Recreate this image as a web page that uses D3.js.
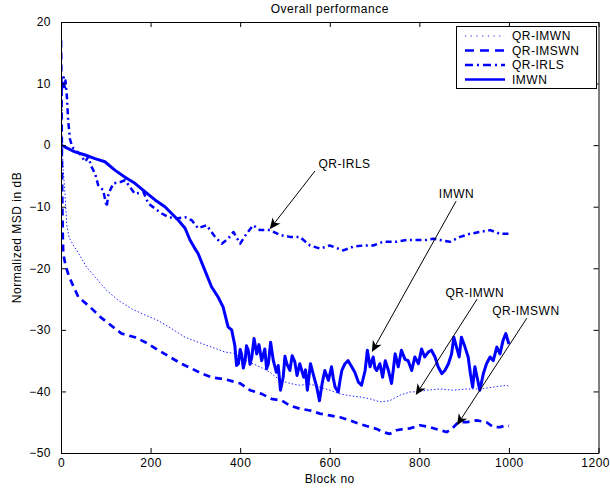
<!DOCTYPE html>
<html><head><meta charset="utf-8">
<script src="https://cdn.jsdelivr.net/npm/d3@7"></script>
<style>
html,body{margin:0;padding:0;background:#fff;}
svg{display:block;font-family:"Liberation Sans",Arial,Helvetica,sans-serif;}
</style></head><body>
<svg id="chart" width="610" height="489"></svg>
<script>
// ---------- data ----------
const xTicks = [0, 200, 400, 600, 800, 1000, 1200];
const yTicks = [20, 10, 0, -10, -20, -30, -40, -50];
const seriesNames = ["QR-IMWN", "QR-IMSWN", "QR-IRLS", "IMWN"];

const qrImwnBlocks = [0, 1, 3, 5, 9, 13, 18, 27, 42, 57, 76, 102, 128, 158, 188, 217, 247, 277, 306, 336, 366, 385, 400, 422, 444, 467, 489, 511, 533, 556, 578, 600, 623, 645, 667, 690, 712, 734, 757, 779, 801, 816, 846, 876, 906, 935, 965, 995, 1000];
const qrImwnValues = [12, 4, -1, -4, -8, -13, -15, -16.2, -17.9, -19.8, -21.4, -23.6, -25.2, -26.6, -27.6, -28.5, -29.8, -31.2, -32.0, -32.8, -33.6, -33.8, -34.4, -35.3, -36.0, -36.9, -38.2, -38.7, -39.0, -38.8, -39.3, -39.8, -40.4, -40.7, -40.9, -41.2, -41.7, -41.5, -40.6, -40.1, -40.0, -39.8, -39.6, -39.8, -39.6, -39.6, -39.3, -39.0, -39.2];

const qrImswnBlocks = [0, 1, 2, 3, 4, 5, 10, 16, 25, 39, 65, 91, 135, 165, 188, 217, 243, 269, 292, 314, 336, 370, 400, 422, 448, 470, 493, 511, 533, 556, 578, 600, 623, 645, 667, 690, 705, 719, 734, 749, 764, 779, 801, 824, 846, 861, 872, 887, 906, 928, 950, 965, 980, 995, 1000];
const qrImswnValues = [17, 10, -2, -10, -15, -17.6, -19.5, -20.9, -22.5, -24.7, -26.3, -28.1, -30.6, -31.2, -32.0, -33.3, -34.4, -35.5, -36.3, -37.1, -37.7, -38.1, -38.7, -39.8, -40.4, -41.2, -41.5, -42.3, -42.8, -43.1, -43.6, -43.9, -44.2, -44.7, -45.3, -45.8, -46.1, -46.6, -46.9, -46.3, -46.1, -46.0, -45.5, -45.8, -46.3, -46.6, -46.1, -45.0, -45.0, -44.7, -45.0, -45.8, -45.8, -45.5, -45.6];

const qrIrlsBlocks = [0, 2, 4, 6, 8, 10, 13, 16, 20, 25, 31, 42, 54, 61, 68, 76, 83, 94, 102, 106, 117, 132, 143, 154, 165, 184, 195, 210, 225, 240, 258, 277, 292, 306, 325, 344, 359, 373, 385, 400, 414, 429, 444, 467, 489, 511, 533, 556, 578, 600, 630, 652, 675, 697, 719, 749, 772, 786, 816, 831, 868, 891, 913, 935, 958, 980, 1000];
const qrIrlsValues = [4, 10, 9, 11, 9, 10.5, 8, 4, 1, -0.3, -0.8, -1.4, -2.7, -1.9, -3.5, -4.6, -6.5, -7.3, -10.0, -7.9, -6.2, -6.0, -5.7, -6.8, -7.9, -7.6, -9.5, -10.3, -11.1, -11.7, -11.9, -11.7, -12.2, -13.5, -13.0, -14.9, -16.0, -15.2, -14.1, -16.0, -14.4, -13.0, -13.8, -13.8, -14.6, -14.9, -14.9, -16.3, -16.8, -16.3, -17.1, -16.5, -16.3, -16.3, -15.7, -15.7, -15.4, -15.4, -15.4, -15.2, -15.7, -14.9, -14.4, -14.1, -13.8, -14.4, -14.4];

const imwnBlocks = [0, 31, 54, 76, 98, 121, 143, 165, 188, 210, 232, 247, 262, 277, 288, 299, 306, 321, 336, 351, 362, 373, 381, 388, 392, 396, 400, 403, 407, 411, 414, 418, 422, 426, 431, 437, 442, 448, 455, 459, 463, 468, 474, 481, 485, 490, 496, 500, 504, 511, 516, 522, 527, 533, 542, 546, 550, 557, 565, 571, 577, 583, 589, 593, 597, 604, 608, 612, 619, 623, 627, 634, 641, 649, 656, 664, 671, 679, 684, 690, 697, 701, 705, 712, 718, 724, 731, 738, 742, 746, 753, 760, 768, 775, 783, 790, 798, 805, 812, 820, 827, 835, 842, 850, 857, 865, 872, 877, 883, 889, 894, 902, 909, 914, 919, 924, 929, 935, 943, 950, 958, 965, 973, 980, 987, 993, 1000];
const imwnValues = [0, -1.1, -1.6, -2.2, -2.7, -4.1, -5.2, -6.2, -7.6, -8.9, -10.0, -11.1, -12.2, -13.5, -15.4, -16.8, -17.6, -20.3, -23.0, -24.7, -26.3, -29.5, -30.0, -32.5, -35.8, -35.5, -33.2, -33.9, -36.2, -35.0, -32.6, -33.3, -35.6, -34.4, -31.4, -33.9, -32.4, -35.0, -33.1, -36.3, -35.5, -32.0, -35.0, -36.9, -35.8, -39.8, -37.7, -34.3, -35.5, -36.6, -34.2, -35.2, -37.4, -35.5, -37.7, -36.5, -39.8, -35.5, -37.7, -39.3, -41.5, -38.7, -36.6, -37.4, -38.2, -36.0, -37.9, -39.3, -40.1, -38.2, -36.6, -35.5, -35.0, -36.0, -36.9, -38.5, -39.0, -36.6, -33.3, -36.0, -34.4, -36.2, -36.6, -35.5, -37.7, -35.0, -36.6, -38.7, -36.4, -33.9, -36.0, -33.3, -34.8, -35.0, -36.6, -34.4, -35.5, -33.1, -34.4, -33.6, -33.3, -34.4, -36.0, -37.1, -36.6, -35.5, -33.9, -31.2, -32.8, -34.4, -31.2, -32.8, -34.4, -37.1, -39.3, -36.0, -37.7, -39.8, -37.1, -35.5, -34.4, -35.0, -32.8, -33.9, -31.7, -30.6, -32.3];

// annotations (data units)
const annLabels = ["QR-IRLS", "IMWN", "QR-IMWN", "QR-IMSWN"];
const annTextX = [633, 883, 924, 1038];
const annTextY = [-3.74, -8.6, -24.7, -27.6];
const annTailX = [567, 882, 929, 1040];
const annTailY = [-4.2, -9.1, -25.0, -28.1];
const annTipX = [466, 694, 792, 884];
const annTipY = [-13.65, -33.6, -40.6, -45.5];

// ---------- layout ----------
const L = 61, R = 598.5, T = 22, B = 453;
const FONT = 12, LS = "0.5px";
const svg = d3.select("#chart");
const x = d3.scaleLinear().domain([0, 1200]).range([L, R]);
const y = d3.scaleLinear().domain([-50, 20]).range([B, T]);

const styles = [
  {dash: "1.5,2", width: 1, opacity: 0.85},
  {dash: "7,5", width: 2.7, opacity: 1},
  {dash: "6,3.5,2,3.5", width: 2.5, opacity: 1},
  {dash: null, width: 3, opacity: 1}
];
const series = [
  {blocks: qrImwnBlocks, values: qrImwnValues},
  {blocks: qrImswnBlocks, values: qrImswnValues},
  {blocks: qrIrlsBlocks, values: qrIrlsValues},
  {blocks: imwnBlocks, values: imwnValues}
];

svg.append("defs").append("clipPath").attr("id", "clip")
  .append("rect").attr("x", L).attr("y", T).attr("width", R - L).attr("height", B - T);

const line = d3.line().x(d => x(d[0])).y(d => y(d[1]));
const plot = svg.append("g").attr("clip-path", "url(#clip)");
series.forEach((s, i) => {
  const pts = s.blocks.map((b, k) => [b, s.values[k]]);
  plot.append("path").attr("d", line(pts))
    .attr("fill", "none").attr("stroke", "#0000ff")
    .attr("stroke-width", styles[i].width)
    .attr("stroke-opacity", styles[i].opacity)
    .attr("stroke-dasharray", styles[i].dash)
    .attr("stroke-linejoin", "round");
});

// axes (MATLAB box style, inward ticks)
const fmt = d => (d < 0 ? "\u2212" + Math.abs(d) : String(d));
const xb = svg.append("g").attr("transform", `translate(0,${B})`)
  .call(d3.axisBottom(x).tickValues(xTicks).tickSizeInner(-5).tickSizeOuter(0).tickPadding(5).tickFormat(fmt));
const xt = svg.append("g").attr("transform", `translate(0,${T})`)
  .call(d3.axisTop(x).tickValues(xTicks).tickSizeInner(-5).tickSizeOuter(0).tickFormat(""));
const yl = svg.append("g").attr("transform", `translate(${L},0)`)
  .call(d3.axisLeft(y).tickValues(yTicks).tickSizeInner(-5).tickSizeOuter(0).tickPadding(10).tickFormat(fmt));
const yr = svg.append("g").attr("transform", `translate(${R},0)`)
  .call(d3.axisRight(y).tickValues(yTicks).tickSizeInner(-5).tickSizeOuter(0).tickFormat(""));
[xb, xt, yl, yr].forEach(g => {
  g.selectAll("path.domain").attr("stroke", "#000").attr("stroke-width", 1);
  g.selectAll("line").attr("stroke", "#000");
  g.selectAll("text").attr("fill", "#000").attr("font-size", FONT).attr("letter-spacing", LS)
    .attr("font-family", "'Liberation Sans',Arial,sans-serif");
});
// keep the last x label inside the window
xb.selectAll(".tick text").filter(d => d === 1200).attr("text-anchor", "end").attr("dx", "11");

// titles
svg.append("text").attr("x", (L + R) / 2).attr("y", 13).attr("text-anchor", "middle")
  .attr("font-size", FONT).attr("letter-spacing", LS).text("Overall performance");
svg.append("text").attr("x", (L + R) / 2).attr("y", 483).attr("text-anchor", "middle")
  .attr("font-size", FONT).attr("letter-spacing", LS).text("Block no");
svg.append("text").attr("transform", `translate(21,${(T + B) / 2}) rotate(-90)`).attr("text-anchor", "middle")
  .attr("font-size", FONT).attr("letter-spacing", LS).text("Normalized MSD in dB");

// legend
const lg = svg.append("g");
lg.append("rect").attr("x", 456.5).attr("y", 26.5).attr("width", 140).attr("height", 62)
  .attr("fill", "#fff").attr("stroke", "#000").attr("stroke-width", 1);
seriesNames.forEach((n, i) => {
  const yy = 36 + i * 14.5;
  lg.append("line").attr("x1", 465).attr("x2", 505).attr("y1", yy).attr("y2", yy)
    .attr("stroke", "#0000ff").attr("stroke-width", i === 0 ? 1 : 2.4)
    .attr("stroke-opacity", styles[i].opacity)
    .attr("stroke-dasharray", i === 0 ? "1.2,4.5" : (i === 1 ? "9,6" : (i === 2 ? "8,4,2,4" : null)));
  lg.append("text").attr("x", 512).attr("y", yy + 4.3).attr("font-size", FONT).attr("letter-spacing", LS).text(n);
});

// annotations
const ann = svg.append("g");
annLabels.forEach((lab, i) => {
  const x0 = x(annTailX[i]), y0 = y(annTailY[i]);
  const x1 = x(annTipX[i]), y1 = y(annTipY[i]);
  const dx = x1 - x0, dy = y1 - y0, len = Math.hypot(dx, dy);
  const ux = dx / len, uy = dy / len, nx = -uy, ny = ux;
  const hl = 11, hw = 5, notch = 3;
  ann.append("line").attr("x1", x0).attr("y1", y0)
    .attr("x2", x1 - ux * (hl - notch)).attr("y2", y1 - uy * (hl - notch))
    .attr("stroke", "#000").attr("stroke-width", 1);
  const p = [
    [x1, y1],
    [x1 - ux * hl + nx * hw, y1 - uy * hl + ny * hw],
    [x1 - ux * (hl - notch), y1 - uy * (hl - notch)],
    [x1 - ux * hl - nx * hw, y1 - uy * hl - ny * hw]
  ];
  ann.append("path").attr("d", "M" + p.map(q => q.join(",")).join("L") + "Z").attr("fill", "#000");
  ann.append("text").attr("x", x(annTextX[i])).attr("y", y(annTextY[i])).attr("text-anchor", "middle")
    .attr("font-size", FONT).attr("letter-spacing", LS).text(lab);
});
</script>
</body></html>
